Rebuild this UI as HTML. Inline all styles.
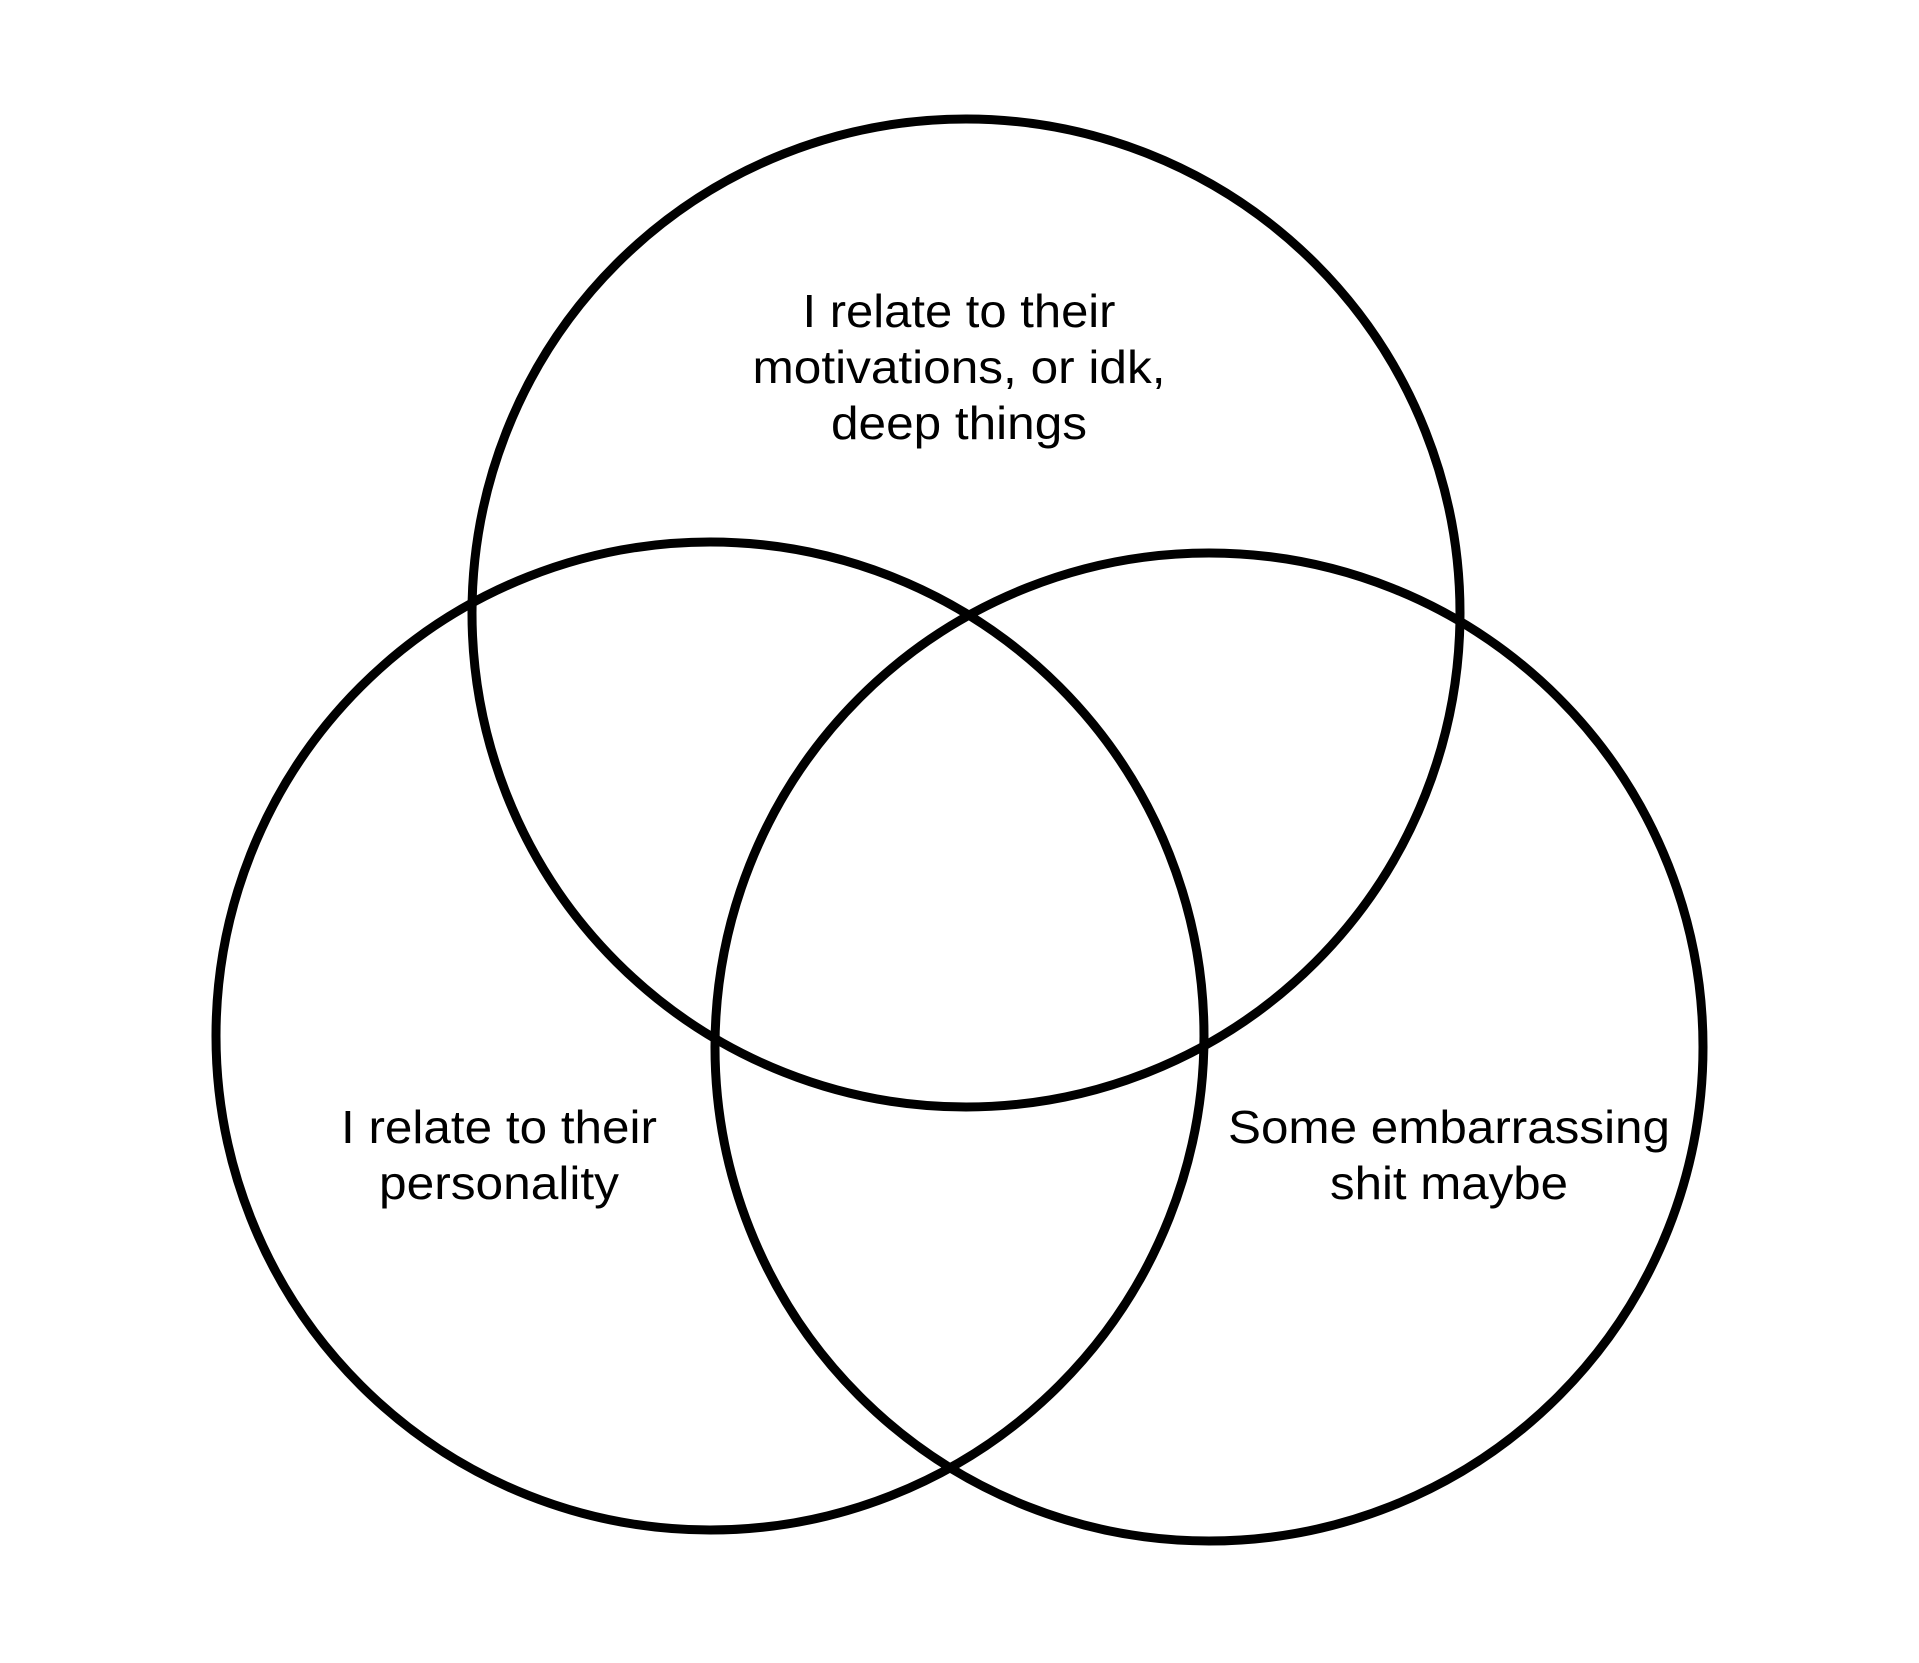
<!DOCTYPE html>
<html><head><meta charset="utf-8"><style>html,body{margin:0;padding:0;background:#fff;}svg{display:block}</style></head>
<body>
<svg width="1919" height="1663" viewBox="0 0 1919 1663" xmlns="http://www.w3.org/2000/svg">
<rect width="1919" height="1663" fill="#fff"/>
<g fill="none" stroke="#000" stroke-width="9">
<circle cx="966" cy="613" r="494"/>
<circle cx="710" cy="1036" r="494"/>
<circle cx="1209" cy="1047" r="494"/>
</g>
<g font-family="Liberation Sans, Arial, sans-serif" font-size="46" fill="#000" text-anchor="middle">
<text x="959" y="327" textLength="313" lengthAdjust="spacingAndGlyphs">I relate to their</text>
<text x="959" y="383" textLength="413" lengthAdjust="spacingAndGlyphs">motivations, or idk,</text>
<text x="959" y="439" textLength="256" lengthAdjust="spacingAndGlyphs">deep things</text>
<text x="499" y="1143" textLength="316" lengthAdjust="spacingAndGlyphs">I relate to their</text>
<text x="499" y="1199" textLength="240" lengthAdjust="spacingAndGlyphs">personality</text>
<text x="1449" y="1143" textLength="442" lengthAdjust="spacingAndGlyphs">Some embarrassing</text>
<text x="1449" y="1199" textLength="238" lengthAdjust="spacingAndGlyphs">shit maybe</text>
</g>
</svg>
</body></html>
